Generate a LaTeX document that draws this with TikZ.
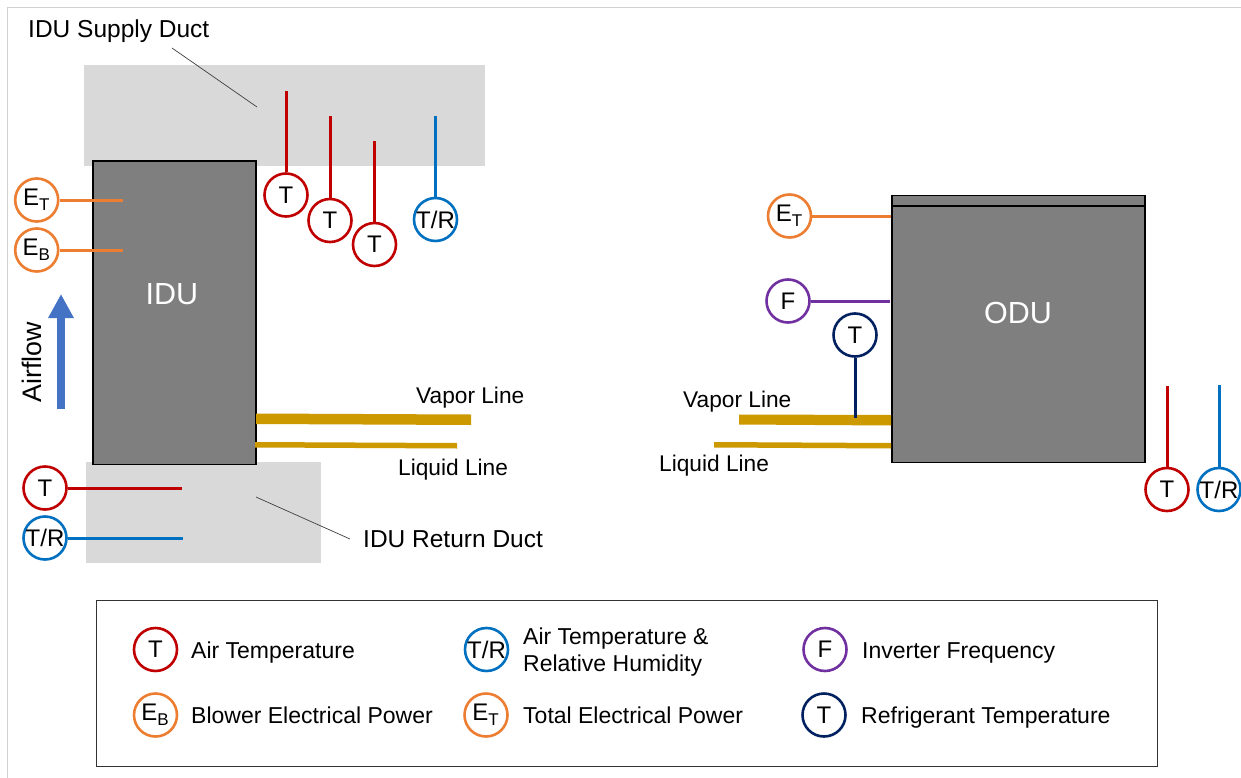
\documentclass[tikz,border=0pt]{standalone}
\usepackage{fontspec}
\setmainfont{Liberation Sans}
\usetikzlibrary{arrows.meta}
\definecolor{cred}{HTML}{C00000}
\definecolor{cblue}{HTML}{0070C0}
\definecolor{corange}{HTML}{ED7D31}
\definecolor{cpurple}{HTML}{7030A0}
\definecolor{cnavy}{HTML}{002060}
\definecolor{cgold}{HTML}{CC9900}
\definecolor{cduct}{HTML}{D9D9D9}
\definecolor{cunit}{HTML}{7F7F7F}
\definecolor{cframe}{HTML}{D0D0D0}
\definecolor{carrow}{HTML}{4472C4}
\newcommand{\fsz}[1]{\fontsize{#1}{#1}\selectfont}
\newcommand{\Esub}[1]{\kern-1pt E\raisebox{-5pt}{\fsz{17}#1}}
\tikzset{
  sensor/.style={circle,draw=#1,line width=2.6pt,fill=white,minimum size=43pt,inner sep=0pt,text=black,font=\fsz{24}},
  wire/.style={draw=#1,line width=3pt},
  ductbox/.style={fill=cduct,draw=none,inner sep=0pt,anchor=north west},
  unitbox/.style={fill=cunit,draw=black,line width=1.8pt,inner sep=0pt,anchor=north west},
  lab/.style={anchor=base west,inner sep=0pt,text=black,font=\fsz{#1}},
  lab/.default=24.5,
  unitlab/.style={anchor=base,inner sep=0pt,text=white,font=\fsz{30.5}},
  leader/.style={draw=black!75,line width=0.7pt},
  pipe/.style={fill=cgold,draw=none},
}
\begin{document}
\begin{tikzpicture}[x=1pt,y=-1pt]
\useasboundingbox (0,0) rectangle (1241,778);
\fill[white] (0,0) rectangle (1241,778);
\draw[cframe,line width=1pt] (7.5,778) -- (7.5,7.5) -- (1241,7.5);

% ducts and units
\node[ductbox,minimum width=401pt,minimum height=101pt] (supply) at (84,65) {};
\node[ductbox,minimum width=235pt,minimum height=101pt] (return) at (86,462) {};
\node[unitbox,minimum width=163pt,minimum height=303pt] (idu) at (92,160.5) {};
\node[unitbox,minimum width=253pt,minimum height=267pt] (odu) at (891,194.5) {};
\draw[black,line width=1.8pt] (odu.north west |- 0,206) -- (odu.north east |- 0,206);
\node[unitlab] (idulab) at (172,304) {IDU};
\node[unitlab] (odulab) at (1018,323) {ODU};

% pipes
\fill[pipe] (256,413.5) -- (471,414.5) -- (471,425) -- (256,424) -- cycle;
\fill[pipe] (255,442) -- (457,443) -- (457,448.5) -- (255,447.5) -- cycle;
\fill[pipe] (739,414.5) -- (891,415) -- (891,425.5) -- (739,424.5) -- cycle;
\fill[pipe] (714,442) -- (891,443) -- (891,448.5) -- (714,447.5) -- cycle;

% leaders
\coordinate (l1a) at (172,48); \coordinate (l1b) at (257,107);
\coordinate (l2a) at (256,497); \coordinate (l2b) at (350,539);
\draw[leader] (l1a) -- (l1b);
\draw[leader] (l2a) -- (l2b);

% airflow
\coordinate (afa) at (61,408.5); \coordinate (afb) at (61,294);
\draw[carrow,line width=8pt,-{Triangle[length=24pt,width=24pt]}] (afa) -- (afb);
\node[rotate=90,inner sep=0pt,font=\fsz{26.8},text=black] (airflow) at (32,362) {Airflow};

% IDU sensors
\node[sensor=corange] (et1) at (36.7,200) {\Esub{T}};
\node[sensor=corange] (eb1) at (36.7,250) {\Esub{B}};
\coordinate (et1e) at (123,200); \coordinate (eb1e) at (123,250);
\draw[wire=corange] (et1.east) -- (et1e);
\draw[wire=corange] (eb1.east) -- (eb1e);

\node[sensor=cred] (t1) at (286,195) {T};
\node[sensor=cred] (t2) at (330,220.5) {T};
\node[sensor=cred] (t3) at (374.5,244.5) {T};
\node[sensor=cblue] (tr1) at (435.5,219.5) {T/R};
\coordinate (t1e) at (286,91); \coordinate (t2e) at (330,116);
\coordinate (t3e) at (374.5,141); \coordinate (tr1e) at (435.5,116);
\draw[wire=cred] (t1.north) -- (t1e);
\draw[wire=cred] (t2.north) -- (t2e);
\draw[wire=cred] (t3.north) -- (t3e);
\draw[wire=cblue] (tr1.north) -- (tr1e);

\node[sensor=cred] (t4) at (45,488) {T};
\node[sensor=cblue] (tr2) at (45,538) {T/R};
\coordinate (t4e) at (182,488); \coordinate (tr2e) at (183,538);
\draw[wire=cred] (t4.east) -- (t4e);
\draw[wire=cblue] (tr2.east) -- (tr2e);

% ODU sensors
\node[sensor=corange] (et2) at (789.5,216) {\Esub{T}};
\node[sensor=cpurple] (f1) at (788,301) {F};
\node[sensor=cnavy] (t5) at (855,335) {T};
\coordinate (et2e) at (891,216); \coordinate (f1e) at (890,301); \coordinate (t5e) at (855,418);
\draw[wire=corange] (et2.east) -- (et2e);
\draw[wire=cpurple] (f1.east) -- (f1e);
\draw[wire=cnavy] (t5.south) -- (t5e);

\node[sensor=cred] (t6) at (1167,489.5) {T};
\node[sensor=cblue] (tr3) at (1219,489.5) {T/R};
\coordinate (t6e) at (1167,386); \coordinate (tr3e) at (1219,385);
\draw[wire=cred] (t6.north) -- (t6e);
\draw[wire=cblue] (tr3.north) -- (tr3e);

% labels
\node[lab] (supplylab) at (28,38) {IDU Supply Duct};
\node[lab] (returnlab) at (363,547) {IDU Return Duct};
\node[lab=22.7] (v1) at (416,403) {Vapor Line};
\node[lab=22.7] (q1) at (398,475) {Liquid Line};
\node[lab=22.7] (v2) at (683,407) {Vapor Line};
\node[lab=22.7] (q2) at (659,471) {Liquid Line};

% legend
\node[draw=black!80,line width=1.2pt,inner sep=0pt,anchor=north west,minimum width=1061pt,minimum height=166pt] (legend) at (96,599.5) {};
\node[sensor=cred] (k1) at (155.5,649.5) {T};
\node[sensor=cblue] (k2) at (486.5,649.5) {T/R};
\node[sensor=cpurple] (k3) at (825,649.5) {F};
\node[sensor=corange] (k4) at (155.5,715) {\Esub{B}};
\node[sensor=corange] (k5) at (486,715) {\Esub{T}};
\node[sensor=cnavy] (k6) at (824,715) {T};
\node[lab=23] (kt1) at (191,658) {Air Temperature};
\node[lab=23] (kt2a) at (523,644) {Air Temperature \&};
\node[lab=23] (kt2b) at (523,671) {Relative Humidity};
\node[lab=23] (kt3) at (862,658) {Inverter Frequency};
\node[lab=23] (kt4) at (191,723) {Blower Electrical Power};
\node[lab=23] (kt5) at (523,723) {Total Electrical Power};
\node[lab=23] (kt6) at (861,723) {Refrigerant Temperature};
\end{tikzpicture}
\end{document}
